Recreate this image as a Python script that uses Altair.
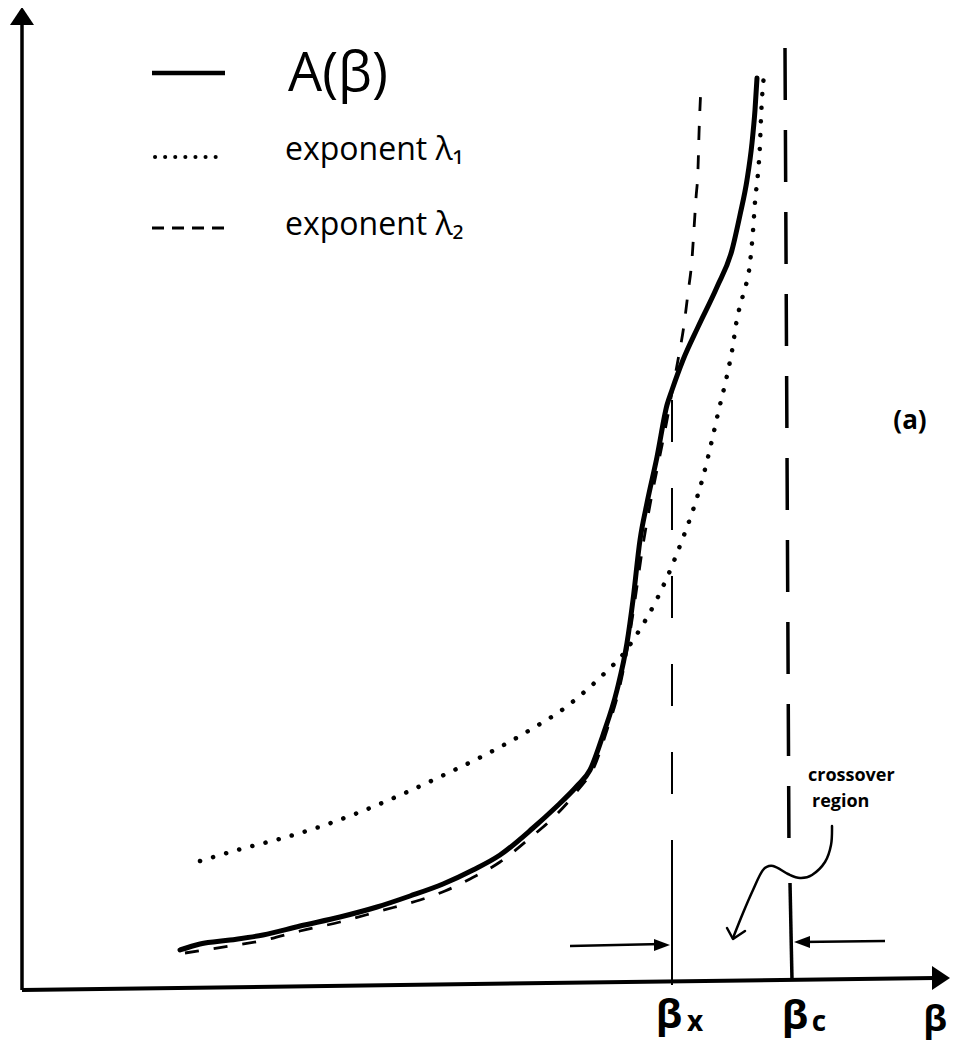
import altair as alt
import pandas as pd

# ---- data (arbitrary sketch units: beta along x, A along y) ----
# A(beta) solid curve
a_beta = [1.58, 1.78, 2.08, 2.41, 2.78, 3.18, 3.55, 3.88, 4.21, 4.51, 4.78, 5.11, 5.33, 5.55,
          5.68, 5.81, 5.95, 6.05, 6.11, 6.18, 6.25, 6.35, 6.45, 6.50, 6.61, 6.76, 6.95, 7.10,
          7.18, 7.25, 7.30, 7.33, 7.35]
a_val = [0.40, 0.46, 0.50, 0.55, 0.64, 0.73, 0.83, 0.94, 1.06, 1.20, 1.35, 1.62, 1.82, 2.04,
         2.20, 2.55, 3.00, 3.47, 3.90, 4.50, 4.87, 5.33, 5.85, 6.00, 6.30, 6.63, 7.03, 7.40,
         7.75, 8.10, 8.47, 8.80, 9.12]

# exponent lambda_2 (dashed)
l2_beta = [1.63, 2.08, 2.43, 2.78, 3.18, 3.58, 3.98, 4.23, 4.48, 4.78, 5.08, 5.33, 5.56, 5.73,
           5.85, 5.97, 6.06, 6.13, 6.21, 6.28, 6.37, 6.45, 6.50, 6.56, 6.62, 6.66, 6.70, 6.72,
           6.74, 6.76, 6.77, 6.79]
l2_val = [0.37, 0.44, 0.50, 0.59, 0.68, 0.79, 0.90, 0.99, 1.11, 1.28, 1.52, 1.74, 2.00, 2.25,
          2.60, 3.00, 3.45, 3.90, 4.45, 4.85, 5.30, 5.70, 5.98, 6.30, 6.65, 6.97, 7.31, 7.61,
          7.92, 8.21, 8.56, 9.04]

# exponent lambda_1 (dotted)
l1_beta = [1.78, 2.19, 2.61, 3.00, 3.38, 3.83, 4.24, 4.61, 5.08, 5.44, 5.68, 5.87, 5.98, 6.15,
           6.35, 6.47, 6.59, 6.72, 6.81, 6.90, 6.97, 7.04, 7.10, 7.15, 7.21, 7.28, 7.31, 7.33,
           7.36, 7.38, 7.39, 7.41, 7.43]
l1_val = [1.29, 1.41, 1.52, 1.64, 1.78, 1.97, 2.16, 2.34, 2.60, 2.83, 3.03, 3.21, 3.32, 3.56,
          3.91, 4.17, 4.47, 4.83, 5.13, 5.50, 5.81, 6.10, 6.39, 6.71, 6.95, 7.27, 7.59, 7.88,
          8.17, 8.46, 8.72, 9.05, 9.18]

# beta_x and beta_c markers
beta_x = 6.50
beta_c_top, beta_c_bottom = 7.63, 7.70

# wiggly "crossover region" pointer
wig_beta = [8.10, 8.09, 8.03, 7.90, 7.78, 7.66, 7.51, 7.41, 7.31, 7.21, 7.11]
wig_val = [1.64, 1.45, 1.28, 1.15, 1.12, 1.16, 1.24, 1.20, 1.00, 0.77, 0.52]
wig_head_beta = [7.05, 7.11, 7.23]
wig_head_val = [0.62, 0.51, 0.59]

legend_labels = ["A(β)", "exponent λ₁", "exponent λ₂"]

# ---- scales ----
XS = alt.Scale(domain=[-0.14, 9.29], nice=False, zero=False)
YS = alt.Scale(domain=[-0.52, 9.82], nice=False, zero=False)


def xe(f="b"):
    return alt.X(f, type="quantitative", scale=XS, axis=None)


def ye(f="a"):
    return alt.Y(f, type="quantitative", scale=YS, axis=None)


def curve(bs, vs, **mk):
    df = pd.DataFrame({"b": bs, "a": vs, "i": list(range(len(bs)))})
    return alt.Chart(df).mark_line(color="black", **mk).encode(
        x=xe(), y=ye(), order=alt.Order("i:Q"))


def segs(rows, **mk):
    df = pd.DataFrame(rows, columns=["b", "a", "b2", "a2"])
    return alt.Chart(df).mark_rule(color="black", **mk).encode(
        x=xe(), y=ye(), x2=alt.X2("b2"), y2=alt.Y2("a2"))


def texts(rows, **mk):
    df = pd.DataFrame(rows, columns=["b", "a", "t", "s"])
    return alt.Chart(df).mark_text(color="black", **mk).encode(
        x=xe(), y=ye(), text="t:N", size=alt.Size("s:Q", scale=None))


# axes
axes = segs([[0.0, 0.0, 0.0, 9.70]], strokeWidth=3.5) + \
    segs([[0.0, 0.0, 9.13, 0.12]], strokeWidth=4)

heads_df = pd.DataFrame({
    "b": [0.0, 9.13, 6.38, 7.82],
    "a": [9.68, 0.12, 0.45, 0.48],
    "shp": ["M0,-1L0.8,0.2L-0.8,0.2Z", "M1,0L-0.2,0.8L-0.2,-0.8Z",
            "M1,0L-0.6,0.6L-0.6,-0.6Z", "M-1,0L0.6,0.6L0.6,-0.6Z"],
    "sz": [900, 900, 400, 400],
})
heads = alt.Chart(heads_df).mark_point(filled=True, color="black", opacity=1, strokeWidth=0).encode(
    x=xe(), y=ye(), shape=alt.Shape("shp:N", scale=None), size=alt.Size("sz:Q", scale=None))

# vertical markers
bx_dash = segs([[beta_x, 5.90, beta_x, 1.18]], strokeWidth=2, strokeDash=[42, 46])
bx_solid = segs([[beta_x, 1.18, beta_x, 0.05]], strokeWidth=2)
bc_dash = segs([[beta_c_top, 9.42, 7.67, 1.38]], strokeWidth=3.5, strokeDash=[52, 30])
bc_solid = segs([[7.68, 1.07, beta_c_bottom, 0.10]], strokeWidth=3.5)

# horizontal arrows
harrows = segs([[5.48, 0.44, 6.40, 0.46], [8.63, 0.49, 7.78, 0.48]], strokeWidth=2.5)

# curves
l1 = curve(l1_beta, l1_val, strokeWidth=4.5, strokeDash=[0.1, 13.5], strokeCap="round",
           interpolate="monotone")
l2 = curve(l2_beta, l2_val, strokeWidth=2.8, strokeDash=[14, 15], interpolate="monotone")
a_curve = curve(a_beta, a_val, strokeWidth=5, strokeCap="round", strokeJoin="round",
                interpolate="monotone")

wig = curve(wig_beta, wig_val, strokeWidth=2.5, interpolate="cardinal", strokeCap="round")
wig_head = curve(wig_head_beta, wig_head_val, strokeWidth=2.5, strokeCap="round",
                 strokeJoin="round")

# legend samples
leg_solid = segs([[1.30, 9.17, 2.03, 9.17]], strokeWidth=4.5)
leg_dot = segs([[1.33, 8.33, 2.03, 8.33]], strokeWidth=4, strokeDash=[0.1, 10], strokeCap="round")
leg_dash = segs([[1.30, 7.62, 2.03, 7.62]], strokeWidth=3, strokeDash=[12, 8])

leg_text = texts([
    [2.66, 9.15, legend_labels[0], 54],
    [2.63, 8.40, legend_labels[1], 32],
    [2.63, 7.65, legend_labels[2], 32],
], font="Open Sans", align="left", baseline="middle")

labels_bold = texts([
    [8.88, 5.69, "(a)", 26],
    [6.47, -0.26, "β", 40],
    [6.73, -0.33, "x", 28],
    [7.73, -0.27, "β", 40],
    [7.97, -0.33, "c", 28],
    [9.13, -0.30, "β", 36],
], font="Open Sans", fontWeight="bold", align="center", baseline="middle")

cross_text = texts([
    [7.86, 2.14, "crossover", 18],
    [7.90, 1.88, "region", 18],
], font="Open Sans", fontWeight="bold", align="left", baseline="middle")

chart = alt.layer(
    axes, heads, bx_dash, bx_solid, bc_dash, bc_solid, harrows,
    l1, l2, a_curve, wig, wig_head,
    leg_solid, leg_dot, leg_dash, leg_text, labels_bold, cross_text,
).properties(
    width=943, height=1034, padding=0,
    autosize=alt.AutoSizeParams(type="none"),
    background="white",
).configure_view(strokeWidth=0)

chart.save("out.html", embed_options={"renderer": "svg", "actions": False})
